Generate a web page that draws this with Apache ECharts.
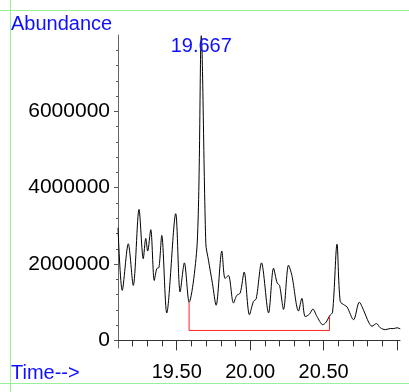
<!DOCTYPE html>
<html><head><meta charset="utf-8">
<script src="https://cdn.jsdelivr.net/npm/echarts@6/dist/echarts.min.js"></script>
<style>html,body{margin:0;padding:0;background:#fff}#c{width:409px;height:392px}</style>
</head><body><div id="c"></div>
<script>
// Retention time (min)
const times = [19.100,19.129,19.170,19.204,19.243,19.272,19.289,19.302,19.323,19.347,19.364,19.379,19.398,19.432,19.493,19.523,19.552,19.584,19.640,19.667,19.698,19.716,19.743,19.768,19.807,19.829,19.852,19.886,19.909,19.932,19.959,19.995,20.022,20.041,20.077,20.125,20.159,20.184,20.200,20.227,20.261,20.284,20.329,20.352,20.375,20.404,20.427,20.454,20.495,20.518,20.540,20.561,20.591,20.613,20.643,20.659,20.704,20.743,20.772,20.806,20.829,20.859,20.886,20.920,20.954,20.977,21.000,21.022];
// Abundance
const abundance = [2950000,1310000,2530000,1440000,3430000,2140000,2670000,2340000,2900000,1570000,1880000,1910000,2750000,720000,3320000,1270000,2030000,1000000,2600000,7980000,2530000,2100000,1490000,920000,2340000,1620000,1700000,980000,1180000,1240000,1790000,670000,1020000,1090000,2030000,720000,1890000,1500000,1440000,810000,1970000,1700000,770000,1100000,620000,690000,820000,630000,410000,480000,640000,740000,2520000,1020000,920000,880000,540000,1000000,790000,480000,370000,440000,330000,280000,310000,310000,330000,300000];

const yLabelTicks = [0,2000000,4000000,6000000];
const yMinorTicks = [400000,800000,1200000,1600000,2400000,2800000,3200000,3600000,4400000,4800000,5200000,5600000,6400000,6800000,7200000,7600000];
const xLabelTicks = [19.5,20.0,20.5];
const xMajorTicks = [19.5,20.0,20.5,21.0];
const xMinorTicks = [19.2,19.3,19.4,19.6,19.7,19.8,19.9,20.1,20.2,20.3,20.4,20.6,20.7,20.8,20.9];

const peakTime = 19.667;
const peakValue = 7980000;
const peakLabel = '19.667';

// integration baseline
const baseTimes = [19.584, 20.540];
const baseCurveValues = [1000000, 640000];
const baseLevel = 260000;

const FONT = "'Liberation Sans', Arial, sans-serif";
const chart = echarts.init(document.getElementById('c'), null, {renderer:'canvas'});

const traceData = times.map((t,i)=>[t, abundance[i]]);
const baselineData = [
  [baseTimes[0], baseCurveValues[0]],
  [baseTimes[0], baseLevel],
  [baseTimes[1], baseLevel],
  [baseTimes[1], baseCurveValues[1]]
];

const xMin = 19.1, xMax = 21.02, yMin = -200000, yMax = 8000000;

chart.setOption({
  animation:false,
  backgroundColor:'#fff',
  grid:{left:118,right:9,top:35,bottom:44,containLabel:false},
  xAxis:[
    {type:'value',min:xMin,max:xMax,position:'bottom',
     axisLine:{show:true,lineStyle:{color:'#333',width:1}},
     axisTick:{show:true,length:10,inside:false,customValues:xMajorTicks,lineStyle:{color:'#333'}},
     axisLabel:{show:true,customValues:xLabelTicks,margin:14,color:'#000',fontSize:20,fontFamily:FONT,
       formatter:v=>Number(v).toFixed(2)},
     splitLine:{show:false}},
    {type:'value',min:xMin,max:xMax,position:'bottom',
     axisLine:{show:false},
     axisTick:{show:true,length:6,customValues:xMinorTicks,lineStyle:{color:'#333'}},
     axisLabel:{show:false},splitLine:{show:false}}
  ],
  yAxis:[
    {type:'value',min:yMin,max:yMax,position:'left',
     axisLine:{show:true,lineStyle:{color:'#666',width:1}},
     axisTick:{show:true,length:4,customValues:yLabelTicks,lineStyle:{color:'#555'}},
     axisLabel:{show:true,customValues:yLabelTicks,margin:8,color:'#000',fontSize:21,fontFamily:FONT,
       formatter:v=>String(Math.round(v))},
     splitLine:{show:false}},
    {type:'value',min:yMin,max:yMax,position:'left',
     axisLine:{show:false},
     axisTick:{show:true,length:2,customValues:yMinorTicks,lineStyle:{color:'#555'}},
     axisLabel:{show:false},splitLine:{show:false}}
  ],
  series:[
    {type:'line',data:traceData,xAxisIndex:0,yAxisIndex:0,symbol:'none',smooth:0.3,
     lineStyle:{color:'#000',width:1},
     markPoint:{symbol:'circle',symbolSize:0,silent:true,
       data:[{coord:[peakTime,peakValue]}],
       label:{show:true,position:'inside',offset:[0,11],formatter:peakLabel,color:'#1010ff',fontSize:20,fontFamily:FONT}}},
    {type:'line',data:baselineData,xAxisIndex:0,yAxisIndex:0,symbol:'none',
     lineStyle:{color:'#ff2020',width:1}}
  ],
  graphic:[
    {type:'line',shape:{x1:0,y1:10.5,x2:409,y2:10.5},style:{stroke:'#99f099',lineWidth:1},silent:true},
    {type:'line',shape:{x1:10.5,y1:0,x2:10.5,y2:392},style:{stroke:'#99f099',lineWidth:1},silent:true},
    {type:'line',shape:{x1:0,y1:383.5,x2:409,y2:383.5},style:{stroke:'#99f099',lineWidth:1},silent:true},
    {type:'text',left:11,top:14,style:{text:'Abundance',fill:'#1010ff',font:"20px 'Liberation Sans', Arial, sans-serif"}},
    {type:'text',left:11,top:363,style:{text:'Time-->',fill:'#1010ff',font:"20px 'Liberation Sans', Arial, sans-serif"}}
  ]
});
</script>
</body></html>
